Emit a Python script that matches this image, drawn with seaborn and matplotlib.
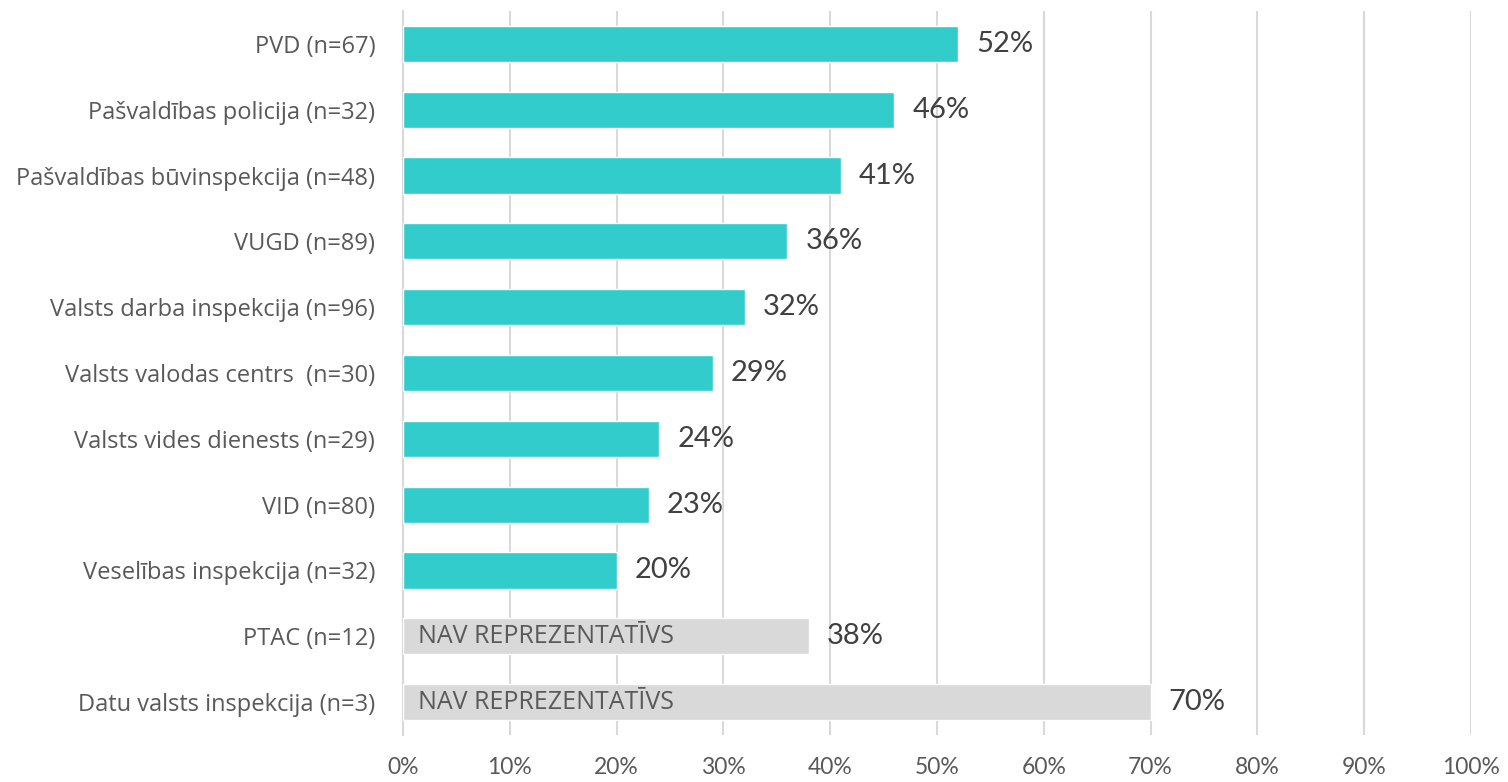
import pandas as pd
import matplotlib
matplotlib.use("Agg")
import matplotlib.pyplot as plt
import seaborn as sns
from matplotlib.ticker import FixedLocator, PercentFormatter

# Data
categories = [
    "PVD (n=67)",
    "Pašvaldības policija (n=32)",
    "Pašvaldības būvinspekcija (n=48)",
    "VUGD (n=89)",
    "Valsts darba inspekcija (n=96)",
    "Valsts valodas centrs  (n=30)",
    "Valsts vides dienests (n=29)",
    "VID (n=80)",
    "Veselības inspekcija (n=32)",
    "PTAC (n=12)",
    "Datu valsts inspekcija (n=3)",
]
values = [0.52, 0.46, 0.41, 0.36, 0.32, 0.29, 0.24, 0.23, 0.20, 0.38, 0.70]
representative = [True] * 9 + [False] * 2

df = pd.DataFrame({"category": categories, "value": values, "repr": representative})

teal = "#33CCCC"
grey = "#D9D9D9"
palette = {c: (teal if r else grey) for c, r in zip(categories, representative)}

sns.set_style("white")
plt.rcParams['font.family'] = ['Open Sans', 'DejaVu Sans']

fig = plt.figure(figsize=(15.08, 7.82), dpi=100)
ax = fig.add_axes([0.2672, 0.0601, 0.7083, 0.9258])

sns.barplot(data=df, x="value", y="category", hue="category", palette=palette,
            order=categories, orient="h", width=0.55, legend=False, ax=ax,
            saturation=1, zorder=3)

ax.set_xlim(0, 1)
ax.set_ylim(len(categories) - 0.5, -0.5)
ax.set_xlabel("")
ax.set_ylabel("")

# vertical gridlines
ax.xaxis.set_major_locator(FixedLocator([i / 10 for i in range(11)]))
ax.xaxis.set_major_formatter(PercentFormatter(1.0, decimals=0))
ax.grid(axis="x", color="#D9D9D9", linewidth=1.5, zorder=0)
ax.set_axisbelow(True)

for s in ["top", "right", "bottom"]:
    ax.spines[s].set_visible(False)
ax.spines["left"].set_color("#D9D9D9")
ax.spines["left"].set_linewidth(1.5)

ax.tick_params(axis="x", length=0, pad=16, labelsize=16.5, labelcolor="#595959")
ax.tick_params(axis="y", which="major", length=0, pad=20, labelsize=17, labelcolor="#595959")
ax.yaxis.set_minor_locator(FixedLocator([i - 0.5 for i in range(len(categories) + 1)]))
ax.tick_params(axis="y", which="minor", length=10, width=1.5, color="#D9D9D9")
for lab in ax.get_xticklabels():
    lab.set_family(['Lato', 'DejaVu Sans'])

# value labels
for i, (v, r) in enumerate(zip(values, representative)):
    ax.annotate(f"{v * 100:.0f}%", xy=(v, i), xytext=(13, 0), textcoords="offset points",
                va="center", ha="left", fontsize=21, color="#404040",
                family=['Lato', 'DejaVu Sans'])
    if not r:
        ax.annotate("NAV REPREZENTATĪVS", xy=(0, i), xytext=(11, 0), textcoords="offset points",
                    va="center", ha="left", fontsize=18, color="#595959",
                    family=['Open Sans', 'DejaVu Sans'])

fig.savefig("out.png", dpi=100)
